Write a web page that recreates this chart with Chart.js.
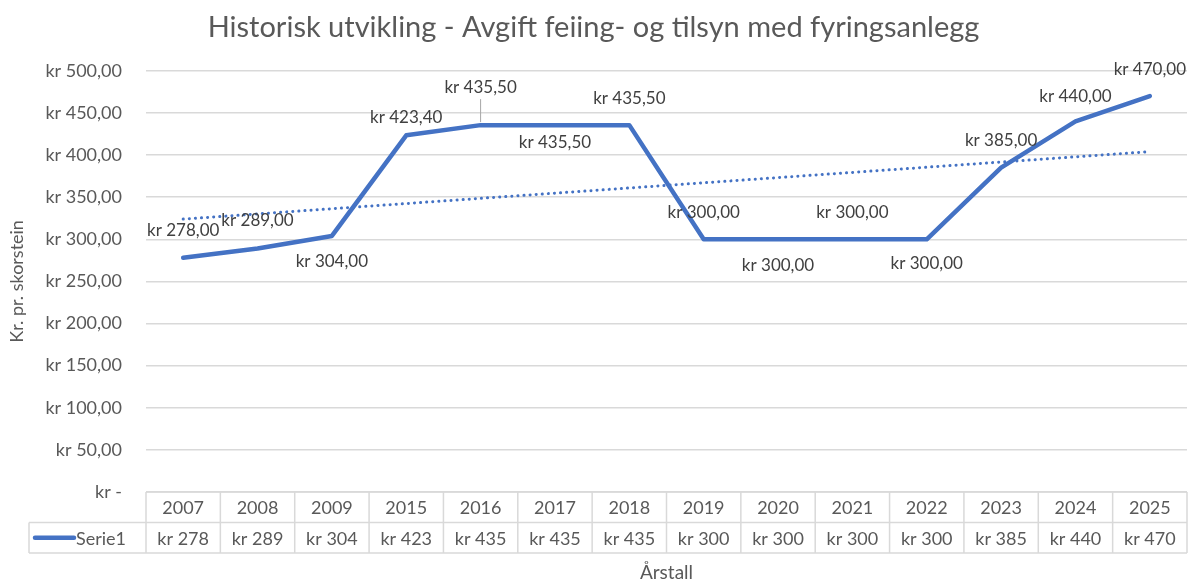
<!DOCTYPE html>
<html>
<head>
<meta charset="utf-8">
<script src="https://cdn.jsdelivr.net/npm/chart.js@4"></script>
<style>
    html, body { margin: 0; padding: 0; background: #fff; }
    #wrap { width: 1195px; height: 584px; }
</style>
</head>
<body>
<div id="wrap"><canvas id="graf"></canvas></div>
<script>
    /*      DATA     */
    const aarstall = ['2007', '2008', '2009', '2015', '2016', '2017', '2018', '2019', '2020', '2021', '2022', '2023', '2024', '2025'];
    const avgift = [278, 289, 304, 423.4, 435.5, 435.5, 435.5, 300, 300, 300, 300, 385, 440, 470];
    const serieNavn = 'Serie1';
    // hvor etiketten står i forhold til punktet (piksler, + er nedover)
    const etikettDy = [-27, -28, 26, -18, -38, 17, -27, -27, 26, -27, 24, -27, -25, -27];

    const FONT = 'Lato, "Open Sans", sans-serif';
    const GRAA = '#595959';
    const BLAA = '#4472C4';
    const LINJE = '#d9d9d9';

    function kr(v) {
        if (v === 0) return 'kr -';
        return 'kr ' + v.toFixed(2).replace('.', ',');
    }

    // lineær trendlinje, samme som Excel
    function trend(verdier) {
        let n = verdier.length;
        let mx = (n - 1) / 2;
        let my = verdier.reduce((a, b) => a + b, 0) / n;
        let sxy = 0, sxx = 0;
        verdier.forEach(function(v, i) {
            sxy += (i - mx) * (v - my);
            sxx += (i - mx) * (i - mx);
        });
        let b = sxy / sxx;
        return verdier.map((v, i) => my + b * (i - mx));
    }

    const etiketter = {
        id: 'etiketter',
        afterDatasetsDraw(chart) {
            let ctx = chart.ctx;
            let meta = chart.getDatasetMeta(0);
            ctx.save();
            ctx.font = '17px ' + FONT;
            ctx.fillStyle = '#404040';
            ctx.textAlign = 'center';
            ctx.textBaseline = 'middle';
            meta.data.forEach(function(p, i) {
                let y = p.y + etikettDy[i];
                ctx.fillText(kr(avgift[i]), p.x, y);
                if (i === 4) {
                    // ledelinje
                    ctx.strokeStyle = '#a6a6a6';
                    ctx.lineWidth = 1;
                    ctx.beginPath();
                    ctx.moveTo(p.x, y + 12);
                    ctx.lineTo(p.x, p.y - 3);
                    ctx.stroke();
                }
            });
            ctx.restore();
        }
    };

    const datatabell = {
        id: 'datatabell',
        afterDraw(chart) {
            let ctx = chart.ctx;
            let x = chart.scales.x;
            let area = chart.chartArea;
            let n = aarstall.length;
            let w = (area.right - area.left) / n;
            let topp = area.bottom;
            let rad = 30.5;
            let venstre = 29;
            ctx.save();
            ctx.strokeStyle = LINJE;
            ctx.lineWidth = 1.5;
            ctx.beginPath();
            // horisontale linjer
            ctx.moveTo(area.left, topp); ctx.lineTo(area.right, topp);
            ctx.moveTo(venstre, topp + rad); ctx.lineTo(area.right, topp + rad);
            ctx.moveTo(venstre, topp + 2 * rad); ctx.lineTo(area.right, topp + 2 * rad);
            // vertikale linjer
            for (let i = 0; i <= n; i++) {
                let lx = area.left + i * w;
                ctx.moveTo(lx, topp); ctx.lineTo(lx, topp + 2 * rad);
            }
            ctx.moveTo(venstre, topp + rad); ctx.lineTo(venstre, topp + 2 * rad);
            ctx.stroke();

            ctx.font = '18px ' + FONT;
            ctx.fillStyle = GRAA;
            ctx.textAlign = 'center';
            ctx.textBaseline = 'middle';
            aarstall.forEach(function(a, i) {
                let cx = x.getPixelForValue(i);
                ctx.fillText(a, cx, topp + rad / 2 + 1);
                ctx.fillText('kr ' + Math.trunc(avgift[i]), cx, topp + rad * 1.5 + 1);
            });

            // forklaring
            ctx.strokeStyle = BLAA;
            ctx.lineWidth = 4.5;
            ctx.lineCap = 'round';
            ctx.beginPath();
            ctx.moveTo(35, topp + rad * 1.5);
            ctx.lineTo(74, topp + rad * 1.5);
            ctx.stroke();
            ctx.textAlign = 'left';
            ctx.fillText(serieNavn, 76, topp + rad * 1.5 + 1);
            ctx.restore();
        }
    };

    const ctx = document.getElementById('graf').getContext('2d');
    const graf = new Chart(ctx, {
        type: 'line',
        data: {
            labels: aarstall,
            datasets: [{
                label: serieNavn,
                data: avgift,
                borderColor: BLAA,
                borderWidth: 4.5,
                pointRadius: 0,
                tension: 0,
                borderJoinStyle: 'round',
                borderCapStyle: 'round'
            }, {
                label: 'Lineær (' + serieNavn + ')',
                data: trend(avgift),
                borderColor: BLAA,
                borderWidth: 3,
                borderDash: [0.1, 6],
                borderCapStyle: 'round',
                pointRadius: 0,
                tension: 0
            }]
        },
        plugins: [etiketter, datatabell],
        options: {
            responsive: true,
            maintainAspectRatio: false,
            animation: false,
            layout: {
                padding: { left: 0, right: 8, top: 0, bottom: 0 }
            },
            plugins: {
                legend: { display: false },
                tooltip: { enabled: false },
                title: {
                    display: true,
                    text: 'Historisk utvikling - Avgift feiing- og tilsyn med fyringsanlegg',
                    color: GRAA,
                    font: { family: FONT, size: 29, weight: 'normal' },
                    padding: { top: 10, bottom: 26 }
                }
            },
            scales: {
                x: {
                    offset: true,
                    grid: { display: false },
                    border: { display: false },
                    ticks: { display: false },
                    title: {
                        display: true,
                        text: 'Årstall',
                        color: GRAA,
                        font: { family: FONT, size: 19 },
                        padding: { top: 0, bottom: 0 }
                    },
                    afterFit: function(scale) {
                        scale.height = 92;
                    }
                },
                y: {
                    min: 0,
                    max: 500,
                    grid: { color: LINJE, lineWidth: 1.5, drawTicks: false },
                    border: { display: false },
                    ticks: {
                        stepSize: 50,
                        padding: 24,
                        color: GRAA,
                        font: { family: FONT, size: 18 },
                        callback: function(v) { return kr(v); }
                    },
                    title: {
                        display: true,
                        text: 'Kr. pr. skorstein',
                        color: GRAA,
                        font: { family: FONT, size: 18 },
                        padding: { top: 6, bottom: 0 }
                    },
                    afterFit: function(scale) {
                        scale.width = 146;
                    }
                }
            }
        }
    });
</script>
</body>
</html>
